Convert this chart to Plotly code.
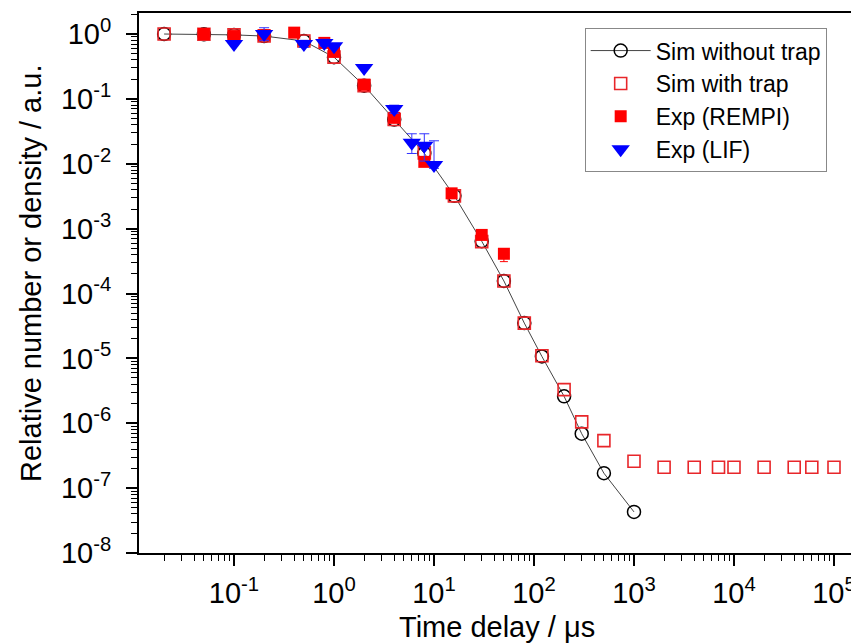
import plotly.graph_objects as go

# ---------------- data ----------------
sim_x = [0.02, 0.05, 0.1, 0.2, 0.5, 1, 2, 4, 8, 16, 30, 50, 80, 120, 200, 300, 500, 1000]
sim_no_trap = [1.0, 0.99, 0.97, 0.93, 0.78, 0.44, 0.16, 0.048, 0.0145, 0.0032, 6.4e-4,
               1.56e-4, 3.5e-5, 1.07e-5, 2.6e-6, 6.9e-7, 1.7e-7, 4.3e-8]

trap_x = [0.02, 0.05, 0.1, 0.2, 0.5, 1, 2, 4, 8, 16, 30, 50, 80, 120, 200, 300, 500, 1000,
          2000, 4000, 7000, 10000, 20000, 40000, 60000, 100000]
sim_trap = [1.0, 0.99, 0.97, 0.93, 0.78, 0.44, 0.16, 0.048, 0.0147, 0.0032, 6.3e-4,
            1.56e-4, 3.5e-5, 1.1e-5, 3.3e-6, 1.05e-6, 5.4e-7, 2.6e-7,
            2.1e-7, 2.1e-7, 2.1e-7, 2.1e-7, 2.1e-7, 2.1e-7, 2.1e-7, 2.1e-7]

rempi_x = [0.05, 0.1, 0.2, 0.4, 0.8, 1, 2, 4, 8, 15, 30, 50]
rempi_y = [1.0, 0.93, 0.96, 1.05, 0.73, 0.53, 0.165, 0.051, 0.0107, 0.0035, 8.0e-4, 4.1e-4]
rempi_err_plus = [0, 0, 0, 0, 0, 0, 0, 0, 0, 0, 0, 0]
rempi_err_minus = [0, 0, 0, 0, 0, 0, 0, 0, 0, 0, 0, 1.0e-4]

lif_x = [0.1, 0.2, 0.5, 0.8, 1, 2, 4, 6, 8, 10]
lif_y = [0.70, 1.0, 0.70, 0.73, 0.65, 0.30, 0.07, 0.021, 0.019, 0.0096]
lif_err_plus = [0, 0.25, 0.1, 0.1, 0, 0, 0.01, 0.008, 0.010, 0.013]
lif_err_minus = [0, 0.2, 0.08, 0.08, 0, 0, 0.01, 0.0066, 0.008, 0.0011]

x_exponents = [-1, 0, 1, 2, 3, 4, 5]
y_exponents = [0, -1, -2, -3, -4, -5, -6, -7, -8]

x_tickvals = [10.0 ** e for e in x_exponents]
x_ticktext = ["10<sup>%d</sup>" % e for e in x_exponents]
y_tickvals = [10.0 ** e for e in y_exponents]
y_ticktext = ["10<sup>%d</sup>" % e for e in y_exponents]

x_minor = [m * 10.0 ** e for e in range(-2, 6) for m in range(2, 10)]
y_minor = [m * 10.0 ** e for e in range(-9, 1) for m in range(2, 10)]

FONT = "Liberation Sans, Arial, sans-serif"

fig = go.Figure()

fig.add_trace(go.Scatter(
    x=sim_x, y=sim_no_trap, mode="lines+markers", name="Sim without trap",
    line=dict(color="#444444", width=1),
    marker=dict(symbol="circle-open", size=13, color="black", line=dict(width=1.5, color="black")),
))
fig.add_trace(go.Scatter(
    x=trap_x, y=sim_trap, mode="markers", name="Sim with trap",
    marker=dict(symbol="square-open", size=12, color="#e8262a", line=dict(width=1.6, color="#e8262a")),
))
fig.add_trace(go.Scatter(
    x=rempi_x, y=rempi_y, mode="markers", name="Exp (REMPI)",
    marker=dict(symbol="square", size=12, color="#ff0000", line=dict(width=0)),
    error_y=dict(type="data", array=rempi_err_plus, arrayminus=rempi_err_minus,
                 color="#ff0000", thickness=1, width=4),
))
fig.add_trace(go.Scatter(
    x=lif_x, y=lif_y, mode="markers", name="Exp (LIF)",
    marker=dict(symbol="triangle-down", size=16, color="#0000ff", line=dict(width=0)),
    error_y=dict(type="data", array=lif_err_plus, arrayminus=lif_err_minus,
                 color="#3333ff", thickness=1, width=5),
))

# The page body has an 8 px margin, so the figure is drawn 8 px in and down.
fig.update_layout(
    width=851, height=636,
    margin=dict(l=131, r=0, t=5, b=91),
    paper_bgcolor="white", plot_bgcolor="white",
    font=dict(family=FONT, color="black"),
    showlegend=True,
    legend=dict(
        x=0.619, y=0.972, xanchor="left", yanchor="top",
        bgcolor="white", bordercolor="#888888", borderwidth=1,
        font=dict(size=23, family=FONT, color="black"),
        itemwidth=60, tracegroupgap=0,
    ),
    xaxis=dict(
        type="log", range=[-1.95, 5.25],
        tickmode="array", tickvals=x_tickvals, ticktext=x_ticktext,
        ticks="outside", ticklen=11, tickwidth=1.5, tickcolor="black",
        showline=True, linecolor="black", linewidth=2, mirror=True,
        showgrid=False, zeroline=False,
        tickfont=dict(size=29, family=FONT),
        ticklabelstandoff=2,
        minor=dict(tickmode="array", tickvals=x_minor, ticks="outside", ticklen=6,
                   tickwidth=1, tickcolor="black", showgrid=False),
    ),
    yaxis=dict(
        type="log", range=[-8, 0.324],
        tickmode="array", tickvals=y_tickvals, ticktext=y_ticktext,
        ticks="outside", ticklen=11, tickwidth=1.5, tickcolor="black",
        showline=True, linecolor="black", linewidth=2, mirror=False,
        showgrid=False, zeroline=False,
        tickfont=dict(size=29, family=FONT),
        ticklabelstandoff=9,
        minor=dict(tickmode="array", tickvals=y_minor, ticks="outside", ticklen=6,
                   tickwidth=1, tickcolor="black", showgrid=False),
    ),
    annotations=[
        dict(text="Time delay / \u03bcs", xref="paper", yref="paper", x=(497 - 139) / 720,
             y=-(627 - 553) / 540, xanchor="center", yanchor="middle", showarrow=False,
             font=dict(size=29, family=FONT, color="black")),
        dict(text="Relative number or density / a.u.", xref="paper", yref="paper",
             x=-(139 - 31) / 720, y=(553 - 274) / 540, xanchor="center", yanchor="middle",
             textangle=-90, showarrow=False,
             font=dict(size=29, family=FONT, color="black")),
    ],
)

fig.write_html("out.html")
